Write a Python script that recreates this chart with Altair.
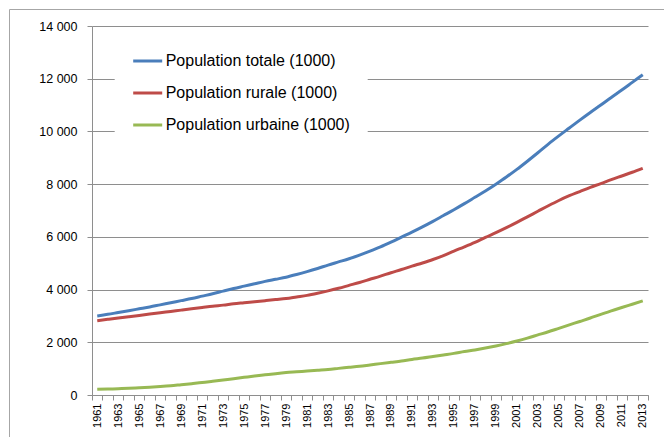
import altair as alt
import pandas as pd

# Population (thousands) by year
years = list(range(1961, 2014))

total = [3000, 3060, 3130, 3200, 3270, 3340, 3420, 3500, 3580, 3660,
         3750, 3840, 3940, 4040, 4130, 4220, 4310, 4390, 4470, 4570,
         4680, 4800, 4930, 5050, 5170, 5310, 5460, 5620, 5800, 5990,
         6180, 6380, 6590, 6810, 7030, 7260, 7500, 7740, 8000, 8270,
         8560, 8870, 9190, 9520, 9830, 10130, 10430, 10720, 11000, 11290,
         11570, 11860, 12150]

rural = [2820, 2870, 2920, 2970, 3020, 3070, 3120, 3170, 3220, 3270,
         3320, 3370, 3410, 3460, 3500, 3540, 3580, 3620, 3660, 3720,
         3780, 3860, 3950, 4050, 4160, 4270, 4390, 4510, 4640, 4760,
         4890, 5010, 5140, 5290, 5460, 5620, 5790, 5980, 6160, 6350,
         6550, 6760, 6970, 7180, 7380, 7560, 7720, 7880, 8020, 8170,
         8310, 8450, 8600]

urban = [215, 225, 240, 255, 275, 295, 320, 350, 390, 430,
         470, 520, 570, 620, 670, 720, 765, 810, 850, 880,
         910, 940, 970, 1010, 1050, 1090, 1140, 1190, 1240, 1290,
         1350, 1400, 1460, 1520, 1580, 1650, 1710, 1780, 1860, 1950,
         2050, 2160, 2280, 2400, 2530, 2660, 2790, 2920, 3060, 3190,
         3320, 3445, 3570]

series_names = ["Population totale (1000)",
                "Population rurale (1000)",
                "Population urbaine (1000)"]
series_colors = ["#4A7EBB", "#BE4B48", "#98B954"]
y_ticks = [0, 2000, 4000, 6000, 8000, 10000, 12000, 14000]

rows = []
for name, vals in zip(series_names, [total, rural, urban]):
    for yr, v in zip(years, vals):
        rows.append({"annee": yr, "serie": name, "valeur": v})
df = pd.DataFrame(rows)

axis_gray = "#8E8E8E"
font = "Liberation Sans"

lines = alt.Chart(df).mark_line(strokeWidth=3, interpolate="monotone").encode(
    x=alt.X(
        "annee:O",
        bandPosition=0.5,
        scale=alt.Scale(type="band", paddingInner=0, paddingOuter=0),
        axis=alt.Axis(
            title=None,
            labelAngle=-90,
            tickBand="extent",
            labelExpr="(datum.value - 1961) % 2 == 0 ? datum.label : ''",
            labelOverlap=False,
            labelFontSize=11,
            labelPadding=3,
            tickSize=5,
            grid=False,
        ),
    ),
    y=alt.Y(
        "valeur:Q",
        scale=alt.Scale(domain=[0, 14000], nice=False),
        axis=alt.Axis(
            title=None,
            values=y_ticks,
            labelExpr="replace(format(datum.value, ','), ',', ' ')",
            labelFontSize=12.5,
            labelPadding=10,
            tickSize=5,
            grid=True,
        ),
    ),
    color=alt.Color(
        "serie:N",
        scale=alt.Scale(domain=series_names, range=series_colors),
        legend=alt.Legend(
            title=None,
            orient="none",
            legendX=22.7,
            legendY=2,
            symbolType="stroke",
            symbolSize=841,
            symbolStrokeWidth=3,
            labelFontSize=16,
            labelOffset=2,
            labelLimit=400,
            rowPadding=8,
            padding=17,
            fillColor="white",
            labelFont=font,
            labelColor="#000000",
        ),
    ),
)

# chart-area frame
frame = alt.Chart(alt.Data(values=[{"k": 1}])).mark_rect(
    fillOpacity=0, stroke="#A6A6A6", strokeWidth=1
).encode(
    x=alt.value(-82.5), x2=alt.value(700),
    y=alt.value(-16.5), y2=alt.value(500),
)

chart = alt.layer(frame, lines).properties(
    width=556,
    height=369,
    autosize=alt.AutoSizeParams(type="none"),
    padding={"left": 92, "top": 26, "right": 16, "bottom": 42},
).configure_view(
    stroke=None
).configure_axis(
    labelFont=font,
    labelColor="#000000",
    domainColor=axis_gray,
    tickColor=axis_gray,
    gridColor=axis_gray,
    domainWidth=1,
    tickWidth=1,
    gridWidth=1,
)

chart.save("out.html", embed_options={"renderer": "svg", "actions": False})
